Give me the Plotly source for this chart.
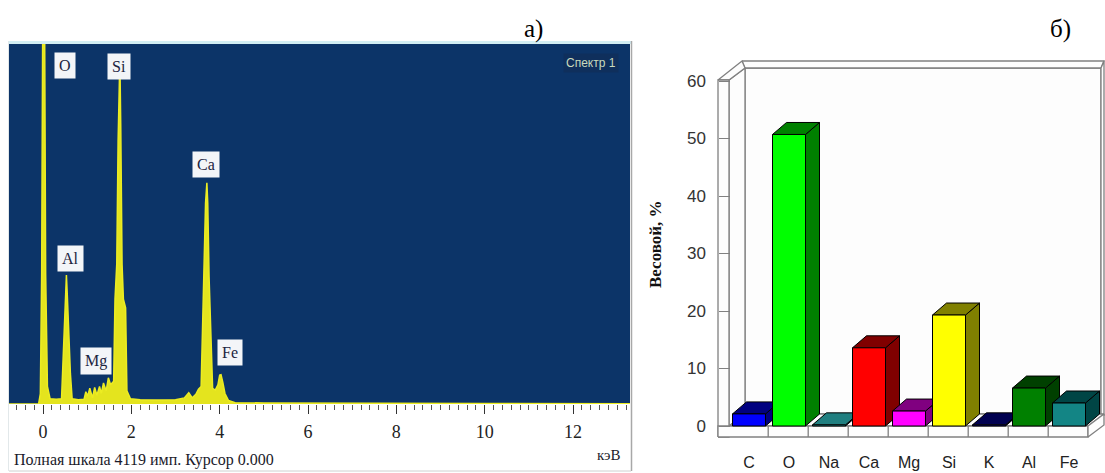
import plotly.graph_objects as go

W, H = 1105, 473

def fx(px):
    return px / W

def fy(py):
    return 1 - py / H

# ---------------- data: EDS spectrum (panel a) ----------------
spec_energy = [-0.77, -0.10, -0.06, -0.03, 0.0, 0.03, 0.06, 0.10, 0.16, 0.3,
               0.42, 0.45, 0.49, 0.52, 0.53, 0.55, 0.58, 0.62, 0.66, 0.8,
               0.93, 0.97, 1.01, 1.06, 1.12, 1.17, 1.22, 1.28, 1.32, 1.37,
               1.43, 1.48, 1.53, 1.60, 1.63, 1.67, 1.70, 1.73, 1.74, 1.76,
               1.79, 1.82, 1.87, 1.90, 1.98, 2.2, 2.6, 3.0, 3.2, 3.3,
               3.38, 3.46, 3.52, 3.58, 3.61, 3.65, 3.68, 3.71, 3.73, 3.76,
               3.80, 3.84, 3.90, 3.96, 4.0, 4.03, 4.07, 4.12, 4.2, 4.35,
               5.0, 7.0, 10.0, 13.3]
spec_counts = [0, 0, 120, 1500, 5200, 5200, 1500, 200, 60, 55,
               60, 500, 1000, 1400, 1476, 1250, 800, 350, 60, 50,
               55, 140, 90, 180, 70, 190, 100, 200, 120, 240,
               150, 300, 220, 260, 1200, 1600, 3000, 3950, 3950, 3200,
               1600, 1200, 1100, 150, 60, 50, 45, 50, 70, 130,
               70, 110, 170, 200, 900, 1450, 2300, 2530, 2300, 1450,
               750, 180, 160, 220, 330, 335, 250, 120, 40, 15,
               12, 8, 6, 4]
full_scale = 4119
energy_ticks = [0, 2, 4, 6, 8, 10, 12]
peak_labels = ["O", "Si", "Ca", "Al", "Mg", "Fe"]

# ---------------- data: element weight % (panel b) ----------------
elements = ["C", "O", "Na", "Ca", "Mg", "Si", "K", "Al", "Fe"]
weight_pct = [2.1, 50.7, 0.2, 13.6, 2.6, 19.3, 0.2, 6.6, 4.0]
front_colors = ["#0000ff", "#00ff00", "#1a9a9a", "#ff0000", "#ff00ff",
                "#ffff00", "#000080", "#008000", "#138585"]
dark_colors = ["#000080", "#008000", "#207f80", "#800000", "#800080",
               "#808000", "#000050", "#004000", "#004545"]
weight_ticks = [0, 10, 20, 30, 40, 50, 60]

fig = go.Figure()

# ---------------- panel a ----------------
fig.add_trace(go.Scatter(
    x=spec_energy, y=spec_counts, mode="lines", fill="tozeroy",
    line=dict(color="#ecec22", width=1.5), fillcolor="#e4e41e",
    xaxis="x", yaxis="y", hoverinfo="skip"))

# ---------------- panel b (pseudo-3D) ----------------
def u(px):
    return (px - 749) / 40.0

def v(py):
    return (426 - py) / 5.75

WL, WI = u(718), u(729)
TOP, FB = v(80), v(437)
DXW, DYW = u(745) - WI, v(414)
XR = u(1088)
BR_IN, BR_OUT = u(1101), u(1104)
TOP_OUT = v(61)
X_OUT_L = u(742)

wall_line = dict(color="#808080", width=1.3)
wall_fill = "#fdfdfd"

def poly(xs, ys, fill, line):
    fig.add_trace(go.Scatter(
        x=xs + [xs[0]], y=ys + [ys[0]], mode="lines", fill="toself",
        fillcolor=fill, line=line, xaxis="x2", yaxis="y2", hoverinfo="skip"))

# back wall
poly([WI + DXW, BR_IN, BR_IN, WI + DXW], [DYW, DYW, TOP + DYW, TOP + DYW], wall_fill, wall_line)
poly([X_OUT_L, BR_OUT, BR_IN, WI + DXW], [TOP_OUT, TOP_OUT, TOP + DYW, TOP + DYW], wall_fill, wall_line)
poly([BR_IN, BR_OUT, BR_OUT, BR_IN], [TOP + DYW, TOP_OUT, DYW - 0.2, DYW], wall_fill, wall_line)
# left wall
poly([WI, WI + DXW, WI + DXW, WI], [0, DYW, TOP + DYW, TOP], wall_fill, wall_line)
poly([WL, WI, WI + DXW, X_OUT_L], [TOP, TOP, TOP + DYW, TOP_OUT], wall_fill, wall_line)
poly([WL, WI, WI, WL], [FB, FB, TOP, TOP], wall_fill, wall_line)
# floor
poly([WI, XR, XR + DXW, WI + DXW], [0, 0, DYW, DYW], wall_fill, wall_line)
poly([WL, XR, XR, WL], [FB, FB, 0, 0], wall_fill, wall_line)
poly([XR, XR + DXW, XR + DXW, XR], [0, DYW, DYW + FB, FB], wall_fill, wall_line)
for i in range(len(elements) - 1):
    fig.add_trace(go.Scatter(x=[i + 0.48, i + 0.48], y=[0, FB], mode="lines",
                             line=wall_line, xaxis="x2", yaxis="y2", hoverinfo="skip"))

BW, DXB, DYB = 0.825, 0.35, v(414)
edge = dict(color="#000000", width=1)
for i, (val, fc, dc) in enumerate(zip(weight_pct, front_colors, dark_colors)):
    x0, x1 = i - BW / 2, i + BW / 2
    poly([x1, x1 + DXB, x1 + DXB, x1], [0, DYB, val + DYB, val], dc, edge)
    poly([x0, x1, x1 + DXB, x0 + DXB], [val, val, val + DYB, val + DYB], dc, edge)
    poly([x0, x1, x1, x0], [0, 0, val, val], fc, edge)

shapes = [
    dict(type="rect", xref="x domain", yref="y domain", x0=0, x1=1, y0=0, y1=1,
         fillcolor="#0c3468", line=dict(width=0), layer="below"),
    dict(type="rect", xref="paper", yref="paper", x0=fx(9), x1=fx(631), y0=fy(44), y1=fy(41),
         fillcolor="#d2eef4", line=dict(width=0)),
    dict(type="line", xref="paper", yref="paper", x0=fx(631.5), x1=fx(631.5), y0=fy(41), y1=fy(471),
         line=dict(color="#a8a8a8", width=1.5)),
    dict(type="line", xref="paper", yref="paper", x0=fx(9), x1=fx(631), y0=fy(471), y1=fy(471),
         line=dict(color="#d0d0d0", width=1)),
    dict(type="line", xref="paper", yref="paper", x0=fx(8.5), x1=fx(8.5), y0=fy(41), y1=fy(471),
         line=dict(color="#e2e8ea", width=1)),
]

serif = "Liberation Serif"
sans = "Liberation Sans"
annotations = []
label_pos = {"O": (65, 65), "Si": (119, 66), "Ca": (206, 165),
             "Al": (70, 258), "Mg": (96, 361), "Fe": (230, 352)}
for lab in peak_labels:
    px, py = label_pos[lab]
    annotations.append(dict(xref="paper", yref="paper", x=fx(px), y=fy(py), text=lab,
                            showarrow=False, bgcolor="#f3f5f8", borderpad=4,
                            font=dict(family=serif, size=16, color="#1c2440"),
                            xanchor="center", yanchor="middle"))
annotations += [
    dict(xref="paper", yref="paper", x=fx(591), y=fy(63), text="Спектр 1", showarrow=False,
         bgcolor="#0f2f5c", borderpad=2, font=dict(family=sans, size=12, color="#c9dabd"),
         xanchor="center", yanchor="middle"),
    dict(xref="paper", yref="paper", x=fx(12), y=fy(460), text="Полная шкала 4119 имп. Курсор 0.000",
         showarrow=False, font=dict(family=serif, size=16, color="#1a1a2a"),
         xanchor="left", yanchor="middle"),
    dict(xref="paper", yref="paper", x=fx(609), y=fy(455), text="кэВ", showarrow=False,
         font=dict(family=serif, size=15, color="#1a1a2a"), xanchor="center", yanchor="middle"),
    dict(xref="paper", yref="paper", x=fx(533), y=fy(29), text="а)", showarrow=False,
         font=dict(family=serif, size=25, color="#000000"), xanchor="center", yanchor="middle"),
    dict(xref="paper", yref="paper", x=fx(1060), y=fy(29), text="б)", showarrow=False,
         font=dict(family=serif, size=25, color="#000000"), xanchor="center", yanchor="middle"),
    dict(xref="paper", yref="paper", x=fx(656), y=fy(244), text="<b>Весовой, %</b>", showarrow=False,
         textangle=-90, font=dict(family=serif, size=17, color="#111111"),
         xanchor="center", yanchor="middle"),
]

fig.update_layout(
    width=W, height=H, margin=dict(l=0, r=0, t=0, b=0),
    paper_bgcolor="white", plot_bgcolor="rgba(0,0,0,0)", showlegend=False,
    shapes=shapes, annotations=annotations,
    xaxis=dict(domain=[fx(9), fx(630)], range=[(9 - 43) / 44.17, (630 - 43) / 44.17],
               tick0=0, dtick=2, ticks="outside", ticklen=9, tickcolor="#333333",
               minor=dict(ticks="outside", dtick=0.2, tick0=0, ticklen=5, tickcolor="#555555"),
               tickfont=dict(family=serif, size=18, color="#222222"),
               ticklabelstandoff=2,
               showgrid=False, zeroline=False, showline=False, anchor="y"),
    yaxis=dict(domain=[fy(404), fy(44)], range=[0, full_scale], visible=False, anchor="x"),
    xaxis2=dict(domain=[fx(714), 1.0], range=[u(714), u(1105)],
                tickmode="array", tickvals=list(range(len(elements))), ticktext=elements,
                ticks="", ticklabelstandoff=11,
                tickfont=dict(family=sans, size=16, color="#222222"),
                showgrid=False, zeroline=False, showline=False, anchor="y2"),
    yaxis2=dict(domain=[fy(440), fy(58)], range=[v(440), v(58)],
                tickmode="array", tickvals=weight_ticks, ticks="inside", ticklen=11,
                tickcolor="#808080", tickwidth=1.3, ticklabelstandoff=12,
                tickfont=dict(family=sans, size=17, color="#333333"),
                showgrid=False, zeroline=False, showline=False,
                anchor="free", position=fx(718)),
)

fig.write_html("out.html")
